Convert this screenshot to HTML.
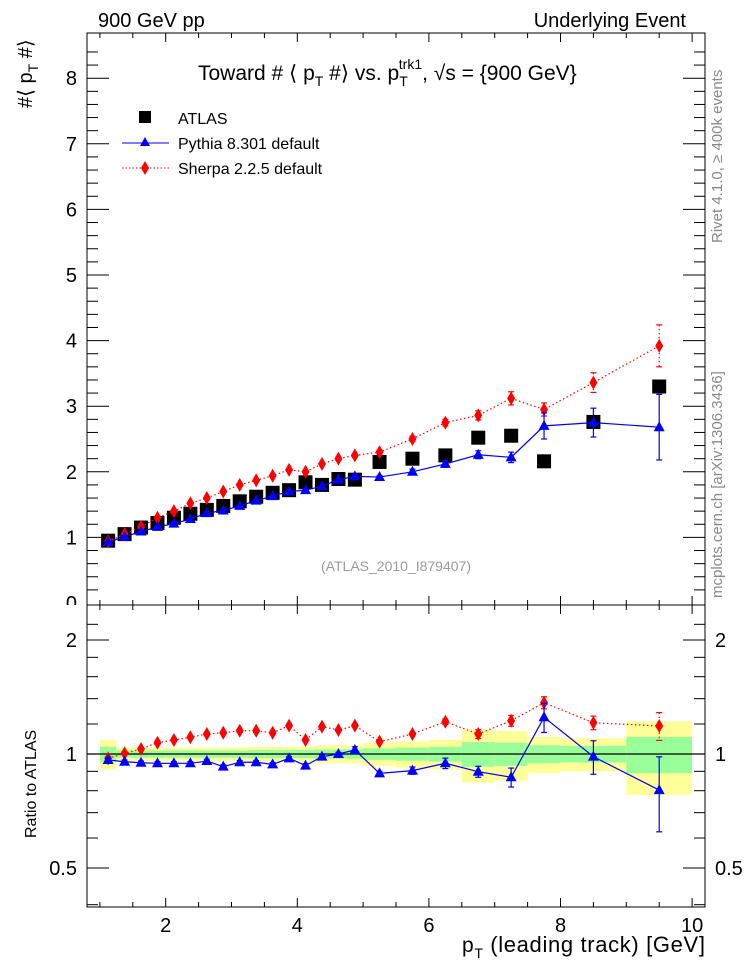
<!DOCTYPE html>
<html><head><meta charset="utf-8"><style>
body{margin:0;background:#fff;width:746px;height:972px;overflow:hidden}
svg{font-family:"Liberation Sans",sans-serif}
</style></head><body>
<svg id="c" width="746" height="972" viewBox="0 0 746 972" xmlns="http://www.w3.org/2000/svg">
<text x="98" y="27" font-size="20">900 GeV pp</text>
<text x="686" y="27" font-size="20" text-anchor="end">Underlying Event</text>
<text x="198" y="80" font-size="21">Toward # ⟨ p<tspan font-size="14" dy="6">T</tspan><tspan dy="-6"> #⟩ vs. p</tspan><tspan font-size="14" dy="6">T</tspan><tspan font-size="14" dx="-9" dy="-17">trk1</tspan><tspan dy="11">, √s = {900 GeV}</tspan></text>
<text transform="translate(32,108) rotate(-90)" font-size="20">#⟨ p<tspan font-size="14" dy="6">T</tspan><tspan dy="-6"> #⟩</tspan></text>
<text transform="translate(36,838) rotate(-90)" font-size="16">Ratio to ATLAS</text>
<text x="462" y="952" font-size="21" textLength="243">p<tspan font-size="14" dy="6">T</tspan><tspan dy="-6" font-size="22"> (leading track) [GeV]</tspan></text>
<text transform="translate(722,243) rotate(-90)" font-size="15" fill="#888">Rivet 4.1.0, ≥ 400k events</text>
<text transform="translate(722,598) rotate(-90)" font-size="15" fill="#888">mcplots.cern.ch [arXiv:1306.3436]</text>
<text x="396" y="571" font-size="14" fill="#999" text-anchor="middle">(ATLAS_2010_I879407)</text>
<g>
<rect x="139" y="111" width="12" height="12" fill="#000"/>
<text x="178" y="124" font-size="16">ATLAS</text>
<line x1="122" y1="143" x2="169" y2="143" stroke="#00f"/>
<polygon points="145,137 140,146 150,146" fill="#00f"/>
<text x="178" y="149" font-size="16">Pythia 8.301 default</text>
<line x1="122" y1="168" x2="169" y2="168" stroke="#f00" stroke-dasharray="1.5,2"/>
<polygon points="145,161 149,168 145,175 141,168" fill="#f00"/>
<text x="178" y="174" font-size="16">Sherpa 2.2.5 default</text>
</g>
<g id="g"></g>
</svg>
<script>
const binEdges=[1,1.25,1.5,1.75,2,2.25,2.5,2.75,3,3.25,3.5,3.75,4,4.25,4.5,4.75,5,5.5,6,6.5,7,7.5,8,9,10];
const atlas=[0.95,1.05,1.15,1.22,1.3,1.36,1.42,1.48,1.55,1.62,1.68,1.72,1.84,1.8,1.89,1.88,2.15,2.2,2.25,2.52,2.55,2.16,2.76,3.3];
const pythia=[0.93,1.01,1.09,1.16,1.21,1.28,1.37,1.41,1.48,1.56,1.63,1.70,1.72,1.78,1.88,1.93,1.92,2.0,2.12,2.26,2.22,2.70,2.75,2.68];
const pythiaErr=[0.01,0.01,0.01,0.01,0.01,0.01,0.01,0.01,0.01,0.01,0.01,0.01,0.01,0.01,0.01,0.02,0.02,0.04,0.05,0.06,0.08,0.2,0.22,0.5];
const sherpa=[0.94,1.05,1.16,1.3,1.4,1.52,1.6,1.7,1.8,1.87,1.94,2.03,2.0,2.12,2.2,2.25,2.3,2.5,2.75,2.86,3.12,2.95,3.36,3.92];
const sherpaErr=[0.01,0.01,0.01,0.01,0.01,0.01,0.01,0.01,0.01,0.01,0.01,0.01,0.01,0.01,0.02,0.02,0.03,0.04,0.05,0.07,0.1,0.1,0.15,0.32];
const pythiaRatio=[0.964,0.954,0.948,0.945,0.945,0.945,0.958,0.926,0.951,0.951,0.939,0.974,0.932,0.984,1.0,1.025,0.889,0.904,0.945,0.898,0.868,1.25,0.984,0.803];
const pythiaRatioErr=[0.01,0.01,0.01,0.01,0.01,0.01,0.01,0.01,0.01,0.01,0.01,0.01,0.01,0.01,0.01,0.02,0.01,0.02,0.03,0.03,0.05,0.11,0.1,0.18];
const sherpaRatio=[0.974,1.004,1.031,1.071,1.089,1.107,1.129,1.138,1.152,1.152,1.138,1.188,1.089,1.181,1.157,1.188,1.078,1.129,1.217,1.129,1.224,1.366,1.209,1.186];
const sherpaRatioErr=[0.01,0.01,0.01,0.01,0.01,0.01,0.01,0.01,0.01,0.01,0.01,0.01,0.01,0.01,0.01,0.01,0.01,0.01,0.02,0.03,0.04,0.05,0.05,0.1];
const yellowBand=[0.09,0.04,0.04,0.04,0.04,0.04,0.04,0.04,0.04,0.045,0.045,0.045,0.045,0.055,0.055,0.055,0.07,0.08,0.09,0.16,0.15,0.11,0.10,0.22];
const greenBand=[0.045,0.022,0.022,0.022,0.022,0.022,0.022,0.022,0.022,0.025,0.025,0.025,0.025,0.028,0.028,0.028,0.035,0.04,0.045,0.075,0.07,0.055,0.05,0.11];
const mainTicks=[0,1,2,3,4,5,6,7,8];
const ratioTicks=[0.5,1,2];
const xTicks=[2,4,6,8,10];

const L=87,R=705,T1=33,B1=605,T2=605,B2=907;
const X=v=>34.1+65.8*v;
const Y1=v=>603-65.6*v;
const Y2=v=>754-114*Math.log2(v);
const g=document.getElementById('g');
const NS='http://www.w3.org/2000/svg';
function el(tag,attrs,parent){const e=document.createElementNS(NS,tag);for(const k in attrs)e.setAttribute(k,attrs[k]);(parent||g).appendChild(e);return e;}
const cx=i=>(binEdges[i]+binEdges[i+1])/2;

binEdges.slice(0,-1).forEach((b,i)=>{
 const x1=X(b),x2=X(binEdges[i+1]);
 const y=el('rect',{x:x1,y:Y2(1+yellowBand[i]),width:x2-x1,height:Y2(1-yellowBand[i])-Y2(1+yellowBand[i]),fill:'#ffff99'});
 
 
 const gr=el('rect',{x:x1,y:Y2(1+greenBand[i]),width:x2-x1,height:Y2(1-greenBand[i])-Y2(1+greenBand[i]),fill:'#99ff99'});
 
 
});
const ref=el('line',{x1:L,x2:R,y1:Y2(1),y2:Y2(1),stroke:'#000','stroke-width':1.2});



mainTicks.forEach(v=>{
 const t=el('text',{x:L-10,y:Y1(v)+7,'font-size':20,'text-anchor':'end'});t.textContent=v;
 
 
});
const cover=el('rect',{x:60,y:B1,width:27,height:12,fill:'#fff'});



[[T1,B1],[T2,B2]].forEach(([t,b],k)=>{
 const f=el('rect',{x:L,y:t,width:R-L,height:b-t,fill:'none',stroke:'#000'});
 
 
 for(let v=1;v<=10.01;v+=0.5){
  const major=Math.abs(v-Math.round(v/2)*2)<1e-6;const len=major?9:5;
  el('line',{x1:X(v),x2:X(v),y1:b,y2:b-len,stroke:'#000'});
  el('line',{x1:X(v),x2:X(v),y1:t,y2:t+len,stroke:'#000'});
 }
});
for(let v=0.2;v<=8.6;v+=0.2){
 const major=Math.abs(v-Math.round(v))<1e-6;const len=major?22:11;
 el('line',{x1:L,x2:L+len,y1:Y1(v),y2:Y1(v),stroke:'#000'});
 el('line',{x1:R,x2:R-len,y1:Y1(v),y2:Y1(v),stroke:'#000'});
}
[0.4,0.5,0.6,0.7,0.8,0.9,1,1.2,1.4,1.6,1.8,2,2.2].forEach(v=>{
 const major=ratioTicks.includes(v);const len=major?22:11;
 el('line',{x1:L,x2:L+len,y1:Y2(v),y2:Y2(v),stroke:'#000'});
 el('line',{x1:R,x2:R-len,y1:Y2(v),y2:Y2(v),stroke:'#000'});
});
ratioTicks.forEach(v=>{
 [L-10,R+10].forEach((x,k)=>{
 const t=el('text',{x:x,y:Y2(v)+7,'font-size':20,'text-anchor':k?'start':'end'});t.textContent=v;
 
 });
});
xTicks.forEach(v=>{
 const t=el('text',{x:X(v),y:932,'font-size':20,'text-anchor':'middle'});t.textContent=v;
 
 
});

function series(vals,errs,Y,color,dash,shape,name){
 const pts=vals.map((v,i)=>X(cx(i))+','+Y(v)).join(' ');
 const pl=el('polyline',{points:pts,fill:'none',stroke:color,'stroke-width':1.2,'stroke-dasharray':dash||'none'});
 
 
 vals.forEach((v,i)=>{
  const x=X(cx(i)),y=Y(v);
  if(errs){const yt=Y(v+errs[i]),yb=Y(Math.max(v-errs[i],0.01));
   el('line',{x1:x,x2:x,y1:yt,y2:yb,stroke:color,'stroke-width':1.2,'stroke-dasharray':dash||'none'});
   el('line',{x1:x-3,x2:x+3,y1:yt,y2:yt,stroke:color,'stroke-width':1.2});
   el('line',{x1:x-3,x2:x+3,y1:yb,y2:yb,stroke:color,'stroke-width':1.2});}
  let m;
  if(shape==='tri')m=el('polygon',{points:`${x},${y-6} ${x-5.5},${y+4} ${x+5.5},${y+4}`,fill:color});
  else m=el('polygon',{points:`${x},${y-7} ${x+4},${y} ${x},${y+7} ${x-4},${y}`,fill:color});
  
  
 });
}
atlas.forEach((v,i)=>{const x=X(cx(i)),y=Y1(v);
 const m=el('rect',{x:x-7,y:y-7,width:14,height:14,fill:'#000'});
 
 });
series(sherpa,sherpaErr,Y1,'#f00','1.5,2.5','dia','sherpa');
series(pythia,pythiaErr,Y1,'#00f',null,'tri','pythia');
series(sherpaRatio,sherpaRatioErr,Y2,'#f00','1.5,2.5','dia','sherpa-ratio');
series(pythiaRatio,pythiaRatioErr,Y2,'#00f',null,'tri','pythia-ratio');
</script>
</body></html>
